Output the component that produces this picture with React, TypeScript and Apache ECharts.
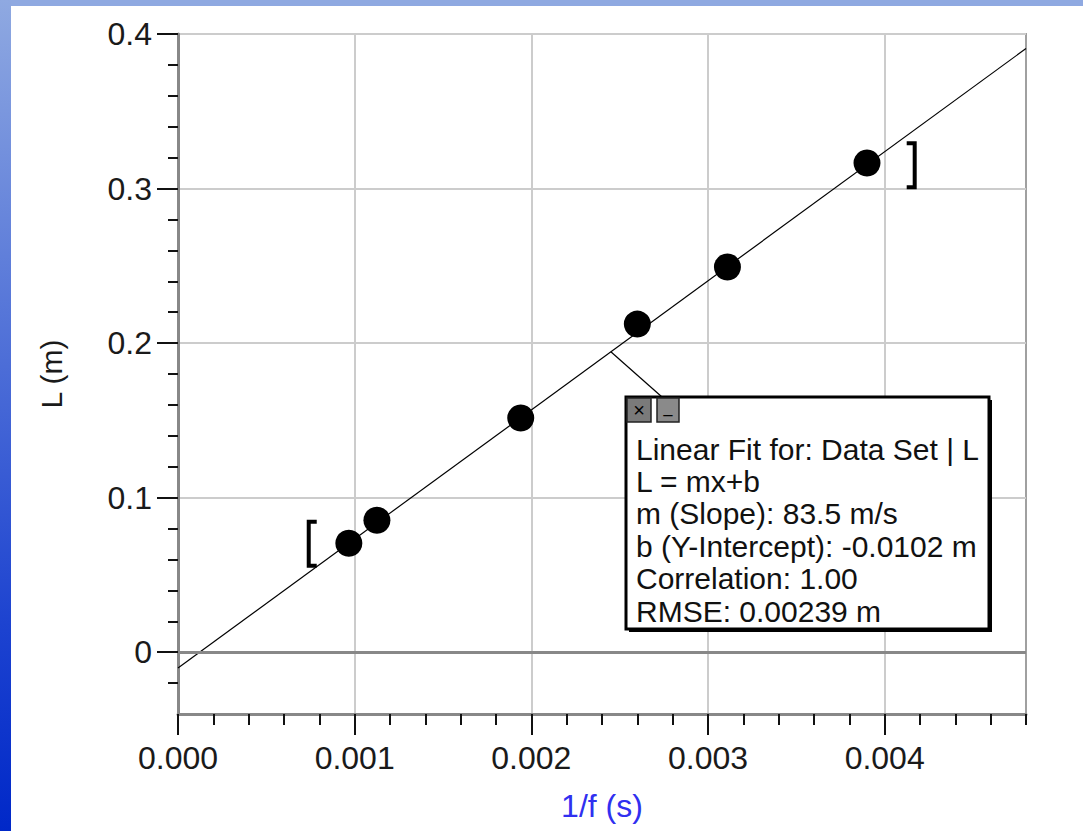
import React, { useEffect, useRef } from 'react';
import * as echarts from 'echarts';

// Measured data (1/f in s, L in m)
const xValues = [0.000967, 0.001126, 0.00194, 0.0026, 0.00311, 0.0039];
const yValues = [0.0705, 0.0854, 0.1515, 0.2123, 0.2492, 0.3165];

// Linear fit parameters (from the fit box)
const fitSlope = 83.5;
const fitIntercept = -0.0102;
const fitRange = [0, 0.0048];
const calloutAnchorX = 0.00245;

// Fit range brackets: x, y, side (-1 = "[", 1 = "]")
const bracketX = [0.00074, 0.00417];
const bracketY = [0.0702, 0.315];
const bracketSide = [-1, 1];

// Axis ticks
const xMajorTicks = [0, 0.001, 0.002, 0.003, 0.004];
const xMinorTicks = [0.0002, 0.0004, 0.0006, 0.0008, 0.0012, 0.0014, 0.0016, 0.0018, 0.0022, 0.0024, 0.0026, 0.0028, 0.0032, 0.0034, 0.0036, 0.0038, 0.0042, 0.0044, 0.0046, 0.0048];
const yMajorTicks = [0, 0.1, 0.2, 0.3, 0.4];
const yMinorTicks = [-0.02, 0.02, 0.04, 0.06, 0.08, 0.12, 0.14, 0.16, 0.18, 0.22, 0.24, 0.26, 0.28, 0.32, 0.34, 0.36, 0.38];

const calloutLines = [
  'Linear Fit for: Data Set | L',
  'L = mx+b',
  'm (Slope): 83.5 m/s',
  'b (Y-Intercept): -0.0102 m',
  'Correlation: 1.00',
  'RMSE: 0.00239 m',
];

const FONT = '"Liberation Sans", Arial, sans-serif';

export default function App() {
  const ref = useRef<HTMLDivElement>(null);

  useEffect(() => {
    document.body.style.margin = '0';
    const chart = echarts.init(ref.current!, null, { renderer: 'svg' });
    const fit = (x: number) => fitSlope * x + fitIntercept;

    const common = {
      min: 0,
      max: 0.0048,
      type: 'value' as const,
    };

    const option: any = {
      animation: false,
      backgroundColor: '#ffffff',
      grid: {
        left: 178,
        top: 34,
        right: 57,
        bottom: 117,
        show: true,
        borderColor: '#a0a0a0',
        borderWidth: 2,
        backgroundColor: 'transparent',
      },
      xAxis: [
        {
          ...common,
          position: 'bottom',
          name: '1/f (s)',
          nameLocation: 'middle',
          nameGap: 76,
          nameTextStyle: { fontFamily: FONT, fontSize: 32, color: '#3030f0' },
          axisLine: { show: true, onZero: false, lineStyle: { color: '#888888', width: 3 } },
          axisTick: { show: true, length: 21, customValues: xMajorTicks, lineStyle: { color: '#111', width: 2 } },
          axisLabel: {
            customValues: xMajorTicks,
            margin: 28,
            fontFamily: FONT,
            fontSize: 32,
            color: '#1a1a1a',
            formatter: (v: number) => v.toFixed(3),
          },
          splitLine: { show: true, lineStyle: { color: '#cccccc', width: 2 } },
        },
        {
          ...common,
          position: 'bottom',
          axisLine: { show: false, onZero: false },
          axisTick: { show: true, length: 11, customValues: xMinorTicks, lineStyle: { color: '#111', width: 2 } },
          axisLabel: { show: false },
          splitLine: { show: false },
        },
      ],
      yAxis: [
        {
          type: 'value',
          min: -0.04,
          max: 0.4,
          position: 'left',
          name: 'L (m)',
          nameLocation: 'middle',
          nameGap: 112,
          nameTextStyle: { fontFamily: FONT, fontSize: 30, color: '#1a1a1a' },
          axisLine: { show: true, onZero: false, lineStyle: { color: '#888888', width: 3 } },
          axisTick: { show: true, length: 21, customValues: yMajorTicks, lineStyle: { color: '#111', width: 2 } },
          axisLabel: {
            customValues: yMajorTicks,
            margin: 26,
            fontFamily: FONT,
            fontSize: 32,
            color: '#1a1a1a',
            formatter: (v: number) => (v === 0 ? '0' : v.toFixed(1)),
          },
          splitLine: { show: true, lineStyle: { color: '#cccccc', width: 2 } },
        },
        {
          type: 'value',
          min: -0.04,
          max: 0.4,
          position: 'left',
          axisLine: { show: false, onZero: false },
          axisTick: { show: true, length: 10, customValues: yMinorTicks, lineStyle: { color: '#111', width: 2 } },
          axisLabel: { show: false },
          splitLine: { show: false },
        },
      ],
      series: [
        {
          type: 'line',
          name: 'fit',
          xAxisIndex: 0,
          yAxisIndex: 0,
          data: fitRange.map((x) => [x, fit(x)]),
          showSymbol: false,
          symbol: 'none',
          silent: true,
          lineStyle: { color: '#000', width: 1.2 },
          z: 3,
          markLine: {
            silent: true,
            symbol: 'none',
            label: { show: false },
            lineStyle: { color: '#888888', width: 3, type: 'solid' },
            data: [{ yAxis: 0 }],
          },
        },
        {
          type: 'scatter',
          xAxisIndex: 0,
          yAxisIndex: 0,
          data: xValues.map((x, i) => [x, yValues[i]]),
          symbol: 'circle',
          symbolSize: 27,
          itemStyle: { color: '#000', opacity: 1 },
          z: 4,
        },
        {
          type: 'custom',
          xAxisIndex: 0,
          yAxisIndex: 0,
          clip: false,
          silent: true,
          data: bracketX.map((x, i) => [x, bracketY[i], bracketSide[i]]),
          renderItem: (params: any, api: any) => {
            const p = api.coord([api.value(0), api.value(1)]);
            const s = api.value(2);
            const h = 22;
            const w = 8 * -s;
            return {
              type: 'polyline',
              shape: {
                points: [
                  [p[0] + w, p[1] - h],
                  [p[0], p[1] - h],
                  [p[0], p[1] + h],
                  [p[0] + w, p[1] + h],
                ],
              },
              style: { stroke: '#000', lineWidth: 4, fill: 'none' },
            };
          },
          z: 4,
        },
      ],
    };

    chart.setOption(option);

    const anchor = chart.convertToPixel({ xAxisIndex: 0, yAxisIndex: 0 }, [calloutAnchorX, fit(calloutAnchorX)]) as number[];

    const bx = 626;
    const by = 397;
    const bw = 363;
    const bh = 232;
    const graphic: any[] = [
      {
        type: 'rect',
        shape: { x: 0, y: 0, width: 1083, height: 6 },
        style: { fill: '#8fa9e1' },
        z: 200,
      },
      {
        type: 'rect',
        shape: { x: 0, y: 0, width: 11, height: 831 },
        style: {
          fill: new echarts.graphic.LinearGradient(0, 0, 0, 1, [
            { offset: 0, color: '#8fa9e1' },
            { offset: 0.75, color: '#1d43d0' },
            { offset: 1, color: '#0028c8' },
          ]),
        },
        z: 200,
      },
      {
        type: 'line',
        shape: { x1: anchor[0], y1: anchor[1], x2: bx + 36, y2: by },
        style: { stroke: '#000', lineWidth: 1.2 },
        z: 100,
      },
      {
        type: 'rect',
        shape: { x: bx + 3, y: by + 3, width: bw, height: bh },
        style: { fill: '#000' },
        z: 100,
      },
      {
        type: 'rect',
        shape: { x: bx, y: by, width: bw, height: bh },
        style: { fill: '#fff', stroke: '#000', lineWidth: 3 },
        z: 101,
      },
      {
        type: 'rect',
        shape: { x: bx + 1, y: by + 1, width: 24, height: 24 },
        style: { fill: '#7a7a7a', stroke: '#222', lineWidth: 1.5 },
        z: 102,
      },
      {
        type: 'text',
        x: bx + 13,
        y: by + 13,
        style: { text: '×', fontFamily: FONT, fontSize: 20, fill: '#000', align: 'center', verticalAlign: 'middle' },
        z: 103,
      },
      {
        type: 'rect',
        shape: { x: bx + 31, y: by + 1, width: 22, height: 24 },
        style: { fill: '#8a8a8a', stroke: '#222', lineWidth: 1.5 },
        z: 102,
      },
      {
        type: 'text',
        x: bx + 42,
        y: by + 10,
        style: { text: '_', fontFamily: FONT, fontSize: 16, fill: '#000', align: 'center', verticalAlign: 'middle' },
        z: 103,
      },
      ...calloutLines.map((t, i) => ({
        type: 'text',
        x: bx + 10,
        y: 449 + i * 32.4,
        style: { text: t, fontFamily: FONT, fontSize: 30, fill: '#111', align: 'left', verticalAlign: 'middle' },
        z: 103,
      })),
    ];

    chart.setOption({ graphic });

    return () => chart.dispose();
  }, []);

  return (
    <div
      ref={ref}
      style={{ position: 'fixed', left: 0, top: 0, width: 1083, height: 831, background: '#fff' }}
    />
  );
}
